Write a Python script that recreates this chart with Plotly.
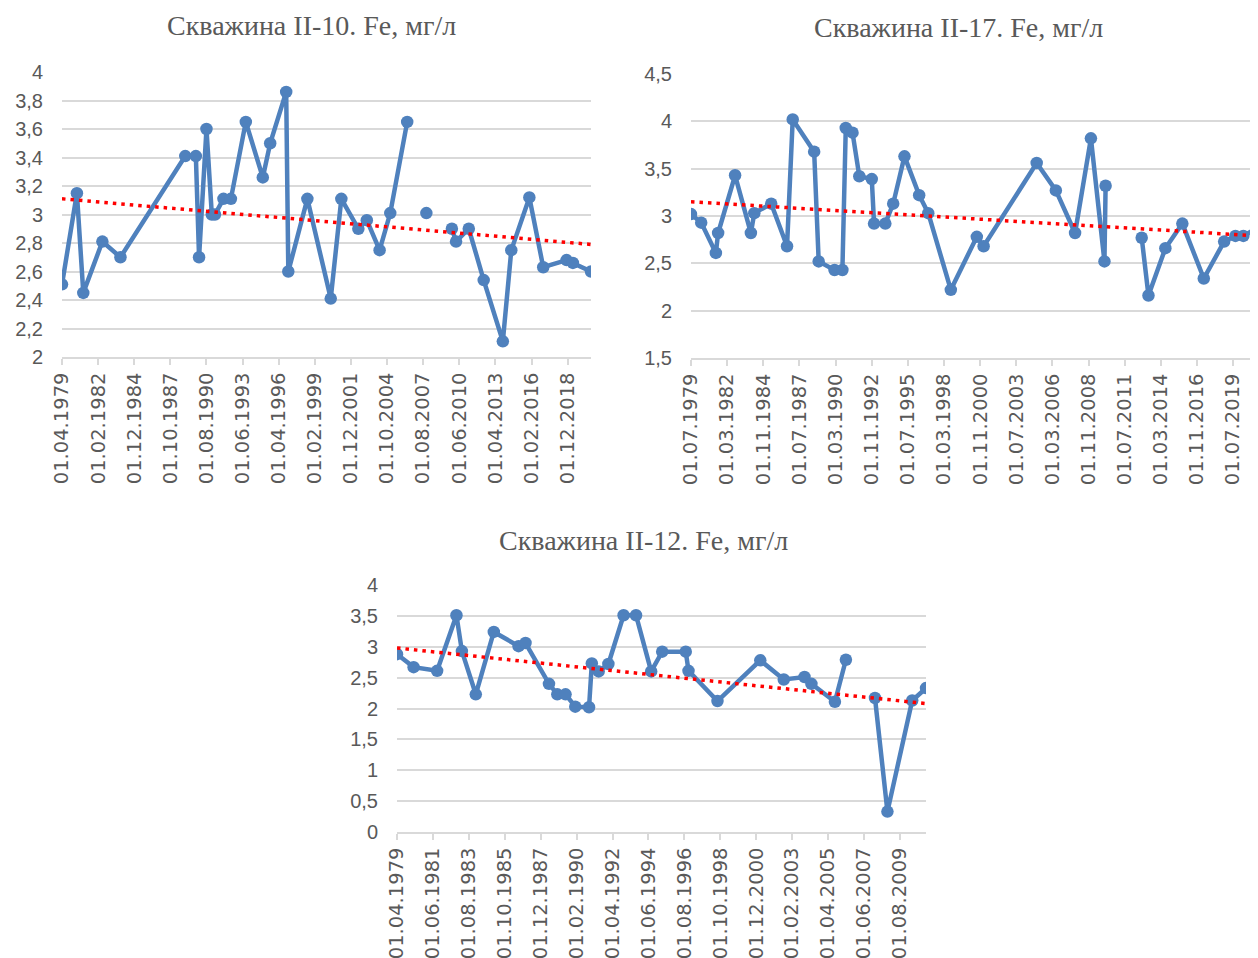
import plotly.graph_objects as go
from datetime import datetime

# page body has an 8px margin; the figure is sized to fill the rest of the window
W, H = 1250, 950
OFF = 8

# ---------------- data ----------------
titles = ["Скважина II-10. Fe, мг/л", "Скважина II-17. Fe, мг/л", "Скважина II-12. Fe, мг/л"]

dates1 = ["1979-04-01", "1980-06-01", "1980-12-01", "1982-06-01", "1983-11-01", "1988-12-01",
          "1989-10-01", "1990-01-01", "1990-08-01", "1991-01-01", "1991-04-01", "1991-12-01",
          "1992-07-01", "1993-09-01", "1995-01-01", "1995-08-01", "1996-11-01", "1997-01-01",
          "1998-07-01", "2000-05-01", "2001-03-01", "2002-07-01", "2003-03-01", "2004-03-01",
          "2005-01-01", "2006-05-01", "2007-01-01", "2007-11-01", "2008-11-01", "2009-11-01",
          "2010-03-01", "2011-03-01", "2012-05-01", "2013-11-01", "2014-07-01", "2015-12-01",
          "2017-01-01", "2018-11-01", "2019-05-01", "2020-10-01"]
fe1 = [2.51, 3.15, 2.45, 2.81, 2.70, 3.41, 3.41, 2.70, 3.60, 3.00,
       3.00, 3.11, 3.11, 3.65, 3.26, 3.50, 3.86, 2.60, 3.11, 2.41,
       3.11, 2.90, 2.96, 2.75, 3.01, 3.65, None, 3.01, None, 2.90,
       2.81, 2.90, 2.54, 2.11, 2.75, 3.12, 2.63, 2.68, 2.66, 2.60]
trend1 = [3.11, 2.79]
ticks1 = ["01.04.1979", "01.02.1982", "01.12.1984", "01.10.1987", "01.08.1990", "01.06.1993",
          "01.04.1996", "01.02.1999", "01.12.2001", "01.10.2004", "01.08.2007", "01.06.2010",
          "01.04.2013", "01.02.2016", "01.12.2018"]

dates2 = ["1979-07-01", "1980-04-01", "1981-05-01", "1981-07-01", "1982-10-01", "1983-12-01",
          "1984-03-01", "1985-06-01", "1986-08-01", "1987-01-01", "1988-08-01", "1988-12-01",
          "1990-02-01", "1990-09-01", "1990-12-01", "1991-06-01", "1991-12-01", "1992-11-01",
          "1993-01-01", "1993-11-01", "1994-06-01", "1995-04-01", "1996-05-01", "1997-01-01",
          "1998-09-01", "2000-08-01", "2001-02-01", "2005-01-01", "2006-06-01", "2007-11-01",
          "2009-01-01", "2010-01-01", "2010-02-01", "2011-06-01", "2012-10-01", "2013-04-01",
          "2014-07-01", "2015-10-01", "2017-05-01", "2018-11-01", "2019-09-01", "2020-04-01",
          "2021-04-01"]
fe2 = [3.02, 2.93, 2.61, 2.82, 3.43, 2.82, 3.03, 3.13, 2.68, 4.02,
       3.68, 2.52, 2.43, 2.43, 3.93, 3.88, 3.42, 3.39, 2.92, 2.92,
       3.13, 3.63, 3.22, 3.03, 2.22, 2.78, 2.68, 3.56, 3.27, 2.82,
       3.82, 2.52, 3.32, None, 2.77, 2.16, 2.66, 2.92, 2.34, 2.73,
       2.79, 2.79, 2.87]
trend2 = [3.15, 2.79]
ticks2 = ["01.07.1979", "01.03.1982", "01.11.1984", "01.07.1987", "01.03.1990", "01.11.1992",
          "01.07.1995", "01.03.1998", "01.11.2000", "01.07.2003", "01.03.2006", "01.11.2008",
          "01.07.2011", "01.03.2014", "01.11.2016", "01.07.2019"]

dates3 = ["1979-04-01", "1980-04-01", "1981-09-01", "1982-11-01", "1983-03-01", "1984-01-01",
          "1985-02-01", "1986-08-01", "1987-01-01", "1988-06-01", "1988-12-01", "1989-06-01",
          "1990-01-01", "1990-11-01", "1991-01-01", "1991-06-01", "1992-01-01", "1992-12-01",
          "1993-09-01", "1994-08-01", "1995-04-01", "1996-09-01", "1996-11-01", "1998-08-01",
          "2001-03-01", "2002-08-01", "2003-11-01", "2004-04-01", "2005-09-01", "2006-05-01",
          "2007-04-01", "2008-02-01", "2008-11-01", "2010-05-01", "2011-03-01"]
fe3 = [2.88, 2.67, 2.61, 3.51, 2.93, 2.23, 3.24, 3.01, 3.06, 2.40,
       2.23, 2.23, 2.03, 2.02, 2.73, 2.60, 2.72, 3.51, 3.51, 2.60,
       2.92, 2.92, 2.61, 2.12, 2.78, 2.47, 2.51, 2.40, 2.11, 2.79,
       None, 2.17, 0.33, 2.13, 2.33]
trend3 = [2.98, 2.08]
ticks3 = ["01.04.1979", "01.06.1981", "01.08.1983", "01.10.1985", "01.12.1987", "01.02.1990",
          "01.04.1992", "01.06.1994", "01.08.1996", "01.10.1998", "01.12.2000", "01.02.2003",
          "01.04.2005", "01.06.2007", "01.08.2009"]

ranges_x = [["1979-04-01", "2020-10-01"], ["1979-07-01", "2021-05-01"], ["1979-04-01", "2011-03-01"]]
ranges_y = [[2, 4], [1.5, 4.5], [0, 4]]
dticks_y = [0.2, 0.5, 0.5]

# ---------------- layout geometry (window pixels) ----------------
# (left, right, top, bottom)
boxes = [(62, 591, 72, 357), (691, 1258, 74, 358), (397, 926, 585, 832)]
title_pos = [(311, 25), (958, 28), (643, 540)]

BLUE = "#4f81bd"
GRID = "#d9d9d9"
TXT = "#595959"


def iso(lbl):
    return datetime.strptime(lbl, "%d.%m.%Y").strftime("%Y-%m-%d")


def fx(px):
    return min(max((px - OFF) / W, 0.0), 1.0)


def fy(py):
    return min(max(1 - (py - OFF) / H, 0.0), 1.0)


fig = go.Figure()
series = [(dates1, fe1, trend1, ticks1), (dates2, fe2, trend2, ticks2), (dates3, fe3, trend3, ticks3)]

layout = dict(
    width=W, height=H, margin=dict(l=0, r=0, t=0, b=0, autoexpand=False),
    paper_bgcolor="white", plot_bgcolor="white", showlegend=False,
    separators=", ", annotations=[],
)

for i, (d, v, tr, tk) in enumerate(series):
    n = "" if i == 0 else str(i + 1)
    fig.add_trace(go.Scatter(
        x=d, y=v, mode="lines+markers", xaxis="x" + n, yaxis="y" + n,
        line=dict(color=BLUE, width=4.5), marker=dict(size=12.5, color=BLUE),
        connectgaps=False, hoverinfo="skip"))
    fig.add_trace(go.Scatter(
        x=ranges_x[i], y=tr, mode="lines", xaxis="x" + n, yaxis="y" + n,
        line=dict(color="#ff0000", width=3.5, dash="3.5px,5px"), hoverinfo="skip"))
    l, r, t, b = boxes[i]
    layout["xaxis" + n] = dict(
        type="date", range=ranges_x[i], domain=[fx(l), fx(r)],
        anchor="y" + n, showgrid=False, zeroline=False, automargin=False,
        showline=True, linecolor=GRID, linewidth=1.5,
        ticks="outside", ticklen=6, tickcolor=GRID, tickwidth=1.5,
        tickmode="array", tickvals=[iso(s) for s in tk], ticktext=tk,
        tickangle=-90, tickfont=dict(family="DejaVu Sans", size=19.5, color=TXT))
    layout["yaxis" + n] = dict(
        range=ranges_y[i], dtick=dticks_y[i], domain=[fy(b), fy(t)],
        anchor="x" + n, showgrid=True, gridcolor=GRID, gridwidth=1.5,
        zeroline=False, showline=False, ticks="", ticklabelstandoff=18, automargin=False,
        tickfont=dict(family="Liberation Sans", size=20, color=TXT))
    tx, ty = title_pos[i]
    layout["annotations"].append(dict(
        text=titles[i], x=fx(tx), y=fy(ty), xref="paper", yref="paper",
        xanchor="center", yanchor="middle", showarrow=False,
        font=dict(family="Liberation Serif", size=28, color=TXT)))

fig.update_layout(**layout)
fig.write_html("out.html")
